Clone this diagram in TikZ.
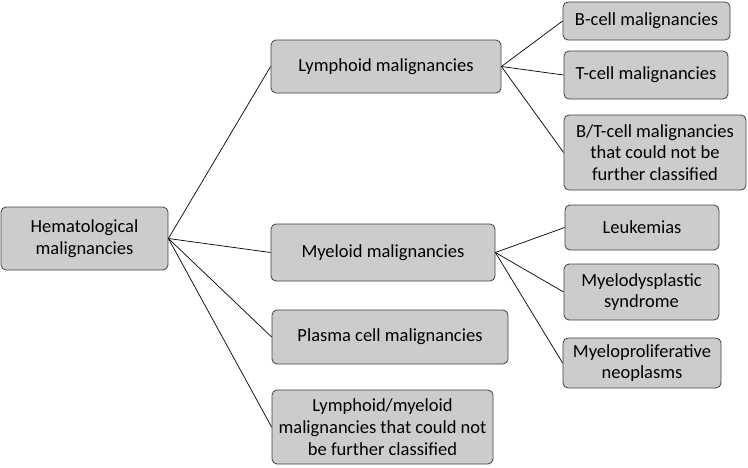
\documentclass[tikz,border=0pt]{standalone}
\usepackage{fontspec}
\setmainfont{Carlito}
\begin{document}
\begin{tikzpicture}[x=1pt,y=1pt,
  box/.style={draw=black!75, line width=0.8pt, fill=black!20, rounded corners=5pt, align=center, inner sep=2pt,
    font=\fontsize{18.5}{21.7}\selectfont},
  link/.style={draw=black, line width=0.7pt}]
\useasboundingbox (0,0) rectangle (748,-467);
\node[box, minimum width=167, minimum height=63] (hem) at (84.5,-238.5) {Hematological\\malignancies};
\node[box, minimum width=230, minimum height=53] (lym) at (386,-66.5) {Lymphoid malignancies};
\node[box, minimum width=224, minimum height=57] (mye) at (383,-252.5) {Myeloid malignancies};
\node[box, minimum width=236, minimum height=54] (pla) at (390,-337) {Plasma cell malignancies};
\node[box, minimum width=221, minimum height=74] (lm) at (382.5,-427) {Lymphoid/myeloid\\malignancies that could not\\be further classified};
\node[box, minimum width=167, minimum height=38] (bc) at (646.5,-21) {B-cell malignancies};
\node[box, minimum width=164, minimum height=48] (tc) at (646,-75) {T-cell malignancies};
\node[box, minimum width=182, minimum height=75] (bt) at (655,-152.5) {B/T-cell malignancies\\that could not be\\further classified};
\node[box, minimum width=154, minimum height=45] (leu) at (642,-227.5) {Leukemias};
\node[box, minimum width=155, minimum height=56] (mds) at (641.5,-292) {Myelodysplastic\\syndrome};
\node[box, minimum width=158, minimum height=50] (mpn) at (642,-363) {Myeloproliferative\\neoplasms};
\foreach \t in {lym,mye,pla,lm} \draw[link] (hem.east) -- (\t.west);
\foreach \t in {bc,tc,bt} \draw[link] (lym.east) -- (\t.west);
\foreach \t in {leu,mds,mpn} \draw[link] (mye.east) -- (\t.west);
\end{tikzpicture}
\end{document}
